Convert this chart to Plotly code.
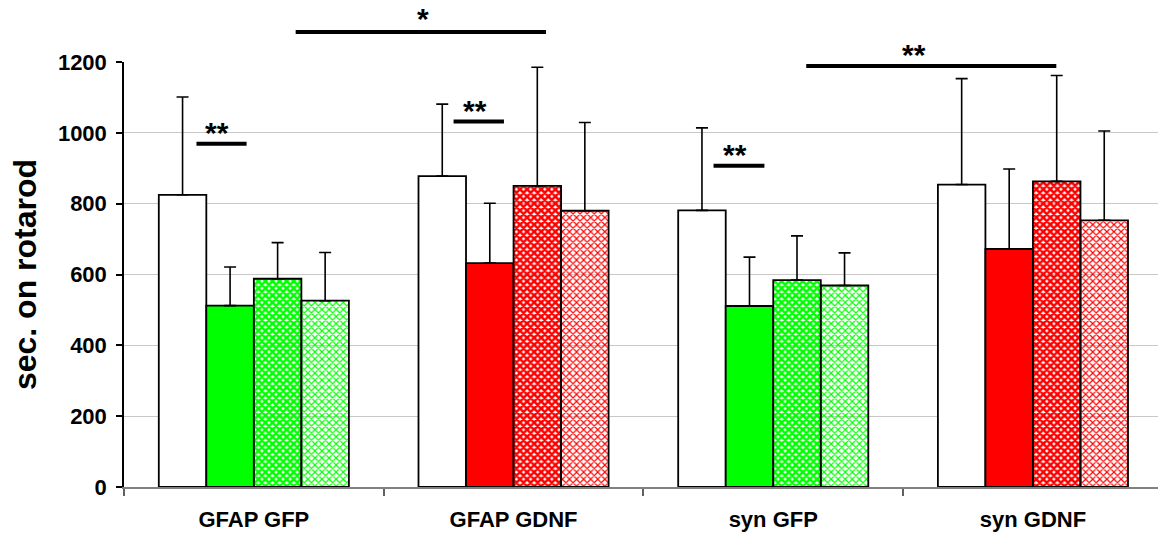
import plotly.graph_objects as go

categories = ["GFAP GFP", "GFAP GDNF", "syn GFP", "syn GDNF"]
white_vals = [825, 878, 781, 854]
white_err = [276, 203, 233, 299]
solid_vals = [512, 632, 511, 672]
solid_err = [109, 169, 138, 226]
dense_vals = [588, 850, 584, 863]
dense_err = [102, 335, 125, 299]
light_vals = [526, 780, 569, 753]
light_err = [136, 249, 92, 252]
group_colors = ["#00FF00", "#FF0000", "#00FF00", "#FF0000"]

y_ticks = [0, 200, 400, 600, 800, 1000, 1200]
y_max = 1200

# significance markers: (x0, x1) in category units, y value, label, label x, label y
sig_lines = [
    (-0.221, -0.028, 969, "**", -0.141, 1000),
    (0.161, 1.125, 1285, "*", 0.652, 1322),
    (0.769, 0.963, 1032, "**", 0.850, 1063),
    (1.770, 1.966, 907, "**", 1.854, 938),
    (2.127, 3.090, 1189, "**", 2.543, 1220),
]

FONT = "Liberation Sans, Arial, sans-serif"

def err(arr):
    return dict(type="data", symmetric=False, array=arr, arrayminus=[0] * len(arr),
                color="black", thickness=1.6, width=6)

line = dict(color="black", width=1.8)

fig = go.Figure()
fig.add_trace(go.Bar(x=categories, y=white_vals, marker=dict(color="white", line=line),
                     error_y=err(white_err), name="control"))
fig.add_trace(go.Bar(x=categories, y=solid_vals, marker=dict(color=group_colors, line=line),
                     error_y=err(solid_err), name="solid"))
fig.add_trace(go.Bar(x=categories, y=dense_vals,
                     marker=dict(color=group_colors, line=line,
                                 pattern=dict(shape="x", fgcolor=group_colors, bgcolor="white",
                                              size=5, solidity=0.75, fillmode="replace")),
                     error_y=err(dense_err), name="dense"))
fig.add_trace(go.Bar(x=categories, y=light_vals,
                     marker=dict(color=group_colors, line=line,
                                 pattern=dict(shape="x", fgcolor=group_colors, bgcolor="white",
                                              size=5, solidity=0.42, fillmode="replace")),
                     error_y=err(light_err), name="light"))

for x0, x1, yv, lab, lx, ly in sig_lines:
    fig.add_shape(type="line", xref="x", yref="paper", x0=x0, x1=x1,
                  y0=yv / y_max, y1=yv / y_max, line=dict(color="black", width=4))
    fig.add_annotation(xref="x", yref="paper", x=lx, y=ly / y_max, text=lab,
                       showarrow=False,
                       font=dict(family=FONT, size=30, color="black", weight="bold"),
                       yanchor="middle")

fig.update_layout(
    width=1158, height=537,
    margin=dict(l=124, r=0, t=62, b=50),
    paper_bgcolor="white", plot_bgcolor="white",
    barmode="group", bargap=0.268, bargroupgap=0,
    showlegend=False,
    font=dict(family=FONT, color="black"),
)
fig.update_xaxes(
    range=[-0.5, -0.5 + 1034 / 259.7],
    showline=True, linecolor="#808080", linewidth=1.5,
    ticks="outside", tickson="boundaries", ticklen=7, tickcolor="#606060", tickwidth=1.5,
    tickfont=dict(family=FONT, size=22, color="black", weight="bold"),
    ticklabelstandoff=12,
    showgrid=False,
)
fig.update_yaxes(
    range=[0, y_max], tickvals=y_ticks,
    showline=True, linecolor="black", linewidth=1.5,
    ticks="outside", ticklen=6, tickcolor="black", tickwidth=1.5,
    tickfont=dict(family=FONT, size=22, color="black", weight="bold"),
    ticklabelstandoff=5,
    showgrid=True, gridcolor="#c8c8c8", gridwidth=1,
    zeroline=False,
    title=dict(text="sec. on rotarod",
               font=dict(family=FONT, size=32, color="black", weight="bold"),
               standoff=12),
)

fig.write_html("out.html", config={"displayModeBar": False},
               post_script="document.body.style.margin='0px';")
